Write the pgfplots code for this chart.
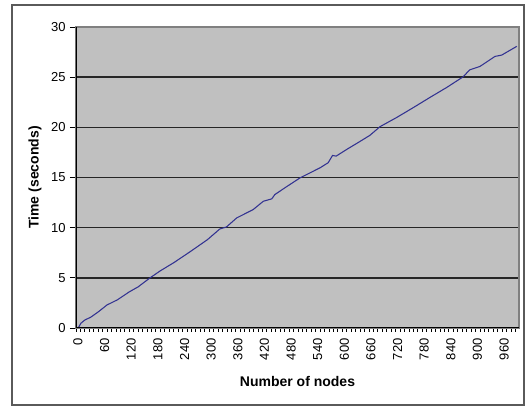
\documentclass[border=0pt]{standalone}
\usepackage{pgfplots}
\pgfplotsset{compat=1.18}
\usepackage{fontspec}
\setmainfont{Liberation Sans}
\definecolor{plotbg}{RGB}{192,192,192}
\definecolor{navy}{RGB}{50,50,145}
\definecolor{framegray}{RGB}{90,90,90}
\begin{document}
\begin{tikzpicture}
\path[use as bounding box] (0,0) rectangle (394.5pt,304.5pt);
\draw[draw=framegray, line width=1pt] (9pt,0.75pt) rectangle (393pt,300.75pt);
\begin{axis}[
  at={(57pt,58.5pt)}, anchor=south west,
  scale only axis, width=332.25pt, height=225.75pt,
  xmin=0, xmax=998, ymin=0, ymax=30,
  axis background/.style={fill=plotbg},
  axis line style={draw=gray, line width=0.8pt},
  tick align=outside, tick pos=left,
  xtick={0,60,...,960},
  minor xtick={0,10,...,990},
  ytick={0,5,...,30},
  every tick/.style={black, line width=0.6pt},
  xtick style={/pgfplots/major tick length=3pt, /pgfplots/minor tick length=3pt},
  ytick style={/pgfplots/major tick length=4.5pt},
  ymajorgrids,
  major grid style={black!85, line width=1.1pt},
  /pgf/number format/assume math mode=true,
  /pgf/number format/set thousands separator={},
  tick label style={font=\fontsize{9.75}{11}\selectfont},
  xticklabel style={rotate=90, anchor=east, yshift=-1.5pt},
  xlabel={Number of nodes},
  ylabel={Time (seconds)},
  label style={font=\fontsize{10.5}{12}\selectfont\bfseries},
  xlabel style={at={([yshift=-40.5pt]rel axis cs:0.5,0)}, anchor=center},
  ylabel style={at={([xshift=-30.75pt]rel axis cs:0,0.5)}, anchor=center},
]
\addplot[navy, line width=0.8pt] coordinates {
(5,0) (11,0.47) (20,0.8) (33,1.07) (50,1.6) (70,2.3) (93,2.8) (120,3.6) (140,4.1)
(166,4.97) (190,5.7) (221,6.53) (258,7.63) (296,8.8) (324,9.87) (339,10.07)
(362,10.97) (399,11.8) (422,12.63) (441,12.87) (448,13.3) (475,14.1) (505,14.97)
(550,15.97) (568,16.47) (578,17.2) (586,17.13) (610,17.8) (640,18.6) (662,19.2)
(685,20.07) (722,20.97) (760,21.97) (797,22.97) (835,23.97) (872,25.03)
(887,25.73) (910,26.07) (944,27.07) (959,27.2) (993,28.07)
};
\draw[black, line width=1.1pt] (rel axis cs:0,0) -- (rel axis cs:0,1);
\draw[black, line width=1.1pt] (rel axis cs:0,0) -- (rel axis cs:1,0);
\end{axis}
\end{tikzpicture}
\end{document}
